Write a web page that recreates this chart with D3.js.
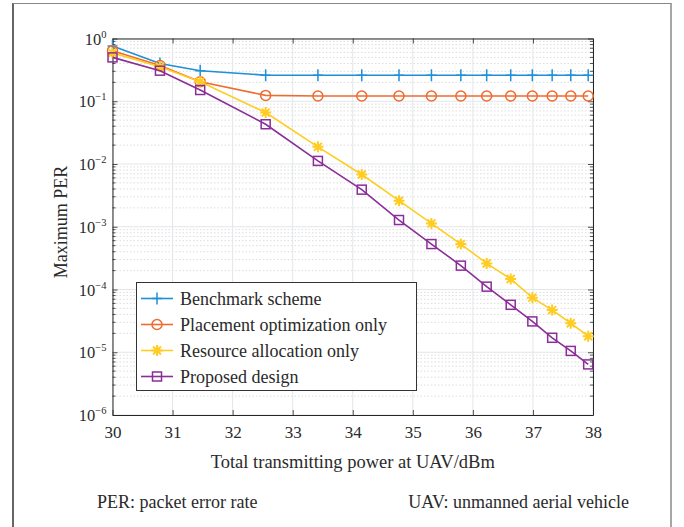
<!DOCTYPE html>
<html>
<head>
<meta charset="utf-8">
<script src="https://cdn.jsdelivr.net/npm/d3@7"></script>
<style>
  body { margin: 0; background: #fff; }
  svg { display: block; font-family: "Liberation Serif", "DejaVu Serif", serif; }
</style>
</head>
<body>
<svg id="chart" width="684" height="527"></svg>
<script>
// transmit power (dBm) at each simulated point
const power = [30, 30.79, 31.46, 32.55, 33.42, 34.15, 34.77, 35.31, 35.80, 36.23, 36.63, 36.99, 37.32, 37.63, 37.92];

// maximum PER per scheme
const benchmark = [0.76, 0.40, 0.307, 0.26, 0.26, 0.26, 0.26, 0.26, 0.26, 0.26, 0.26, 0.26, 0.26, 0.26, 0.26];
const placement = [0.64, 0.37, 0.205, 0.124, 0.121, 0.121, 0.121, 0.121, 0.121, 0.121, 0.121, 0.121, 0.121, 0.121, 0.121];
const resource = [0.59, 0.355, 0.205, 0.066, 0.0188, 0.0068, 0.0026, 0.00113, 5.3e-4, 2.6e-4, 1.47e-4, 7.4e-5, 4.7e-5, 2.9e-5, 1.8e-5];
const proposed = [0.50, 0.307, 0.151, 0.043, 0.0112, 0.0039, 0.00128, 5.3e-4, 2.4e-4, 1.11e-4, 5.7e-5, 3.1e-5, 1.7e-5, 1.05e-5, 6.4e-6];

const seriesNames = ["Benchmark scheme", "Placement optimization only", "Resource allocation only", "Proposed design"];
const seriesColors = ["#1f8fd6", "#ef6b2f", "#ffcc22", "#8a2e98"];
const seriesMarkers = ["plus", "circle", "star", "square"];

const xTicks = [30, 31, 32, 33, 34, 35, 36, 37, 38];
const yExponents = [0, -1, -2, -3, -4, -5, -6];

const svg = d3.select("#chart");
const margin = {left: 112.5, right: 91, top: 38.5, bottom: 112};
const W = 684, H = 527;
const textColor = "#2a2a2a";

const x = d3.scaleLinear().domain([30, 38]).range([margin.left, W - margin.right]);
const y = d3.scaleLog().domain([1e-6, 1]).range([H - margin.bottom, margin.top]);

// outer frame
svg.append("line").attr("x1", 13).attr("y1", 3).attr("x2", 13).attr("y2", H)
    .attr("stroke", "#333").attr("stroke-width", 1.5);
svg.append("line").attr("x1", 13).attr("y1", 3.5).attr("x2", 671).attr("y2", 3.5)
    .attr("stroke", "#888").attr("stroke-width", 1.2);
svg.append("line").attr("x1", 671).attr("y1", 3).attr("x2", 671).attr("y2", H)
    .attr("stroke", "#888").attr("stroke-width", 1.5);

const x0 = x.range()[0], x1 = x.range()[1];
const yb = y.range()[0], yt = y.range()[1];

// minor grid (dotted) for y
const minorVals = [];
yExponents.slice(0, -1).forEach(e => {
    for (let k = 2; k <= 9; k++) minorVals.push(k * Math.pow(10, e - 1));
});
const grid = svg.append("g");
grid.selectAll("line.minor").data(minorVals).join("line")
    .attr("x1", x0).attr("x2", x1)
    .attr("y1", d => y(d)).attr("y2", d => y(d))
    .attr("stroke", "#d4d4d4").attr("stroke-width", 0.8).attr("stroke-dasharray", "1.5,2");
grid.selectAll("line.mx").data(xTicks).join("line")
    .attr("x1", d => x(d)).attr("x2", d => x(d)).attr("y1", yt).attr("y2", yb)
    .attr("stroke", "#e2e6ea").attr("stroke-width", 1);
grid.selectAll("line.my").data(yExponents).join("line")
    .attr("x1", x0).attr("x2", x1)
    .attr("y1", d => y(Math.pow(10, d))).attr("y2", d => y(Math.pow(10, d)))
    .attr("stroke", "#e2e6ea").attr("stroke-width", 1);

// axes with inner ticks
const axisColor = "#262626";
const axBottom = svg.append("g").attr("transform", `translate(0,${yb})`)
    .call(d3.axisBottom(x).tickValues(xTicks).tickSizeInner(-5).tickSizeOuter(0).tickPadding(11));
const axTop = svg.append("g").attr("transform", `translate(0,${yt})`)
    .call(d3.axisTop(x).tickValues(xTicks).tickSizeInner(-5).tickSizeOuter(0).tickFormat(""));
const axLeft = svg.append("g").attr("transform", `translate(${x0},0)`)
    .call(d3.axisLeft(y).tickValues(yExponents.map(e => Math.pow(10, e))).tickSizeInner(-5).tickSizeOuter(0).tickFormat(""));
const axRight = svg.append("g").attr("transform", `translate(${x1},0)`)
    .call(d3.axisRight(y).tickValues(yExponents.map(e => Math.pow(10, e))).tickSizeInner(-5).tickSizeOuter(0).tickFormat(""));
axLeft.append("g").selectAll("line").data(minorVals).join("line")
    .attr("x1", 0).attr("x2", 3).attr("y1", d => y(d)).attr("y2", d => y(d));
axRight.append("g").selectAll("line").data(minorVals).join("line")
    .attr("x1", 0).attr("x2", -3).attr("y1", d => y(d)).attr("y2", d => y(d));
[axBottom, axTop, axLeft, axRight].forEach(g => {
    g.select(".domain").attr("stroke", axisColor).attr("stroke-width", 1);
    g.selectAll("line").attr("stroke", axisColor).attr("stroke-width", 0.8);
});
axBottom.selectAll("text").attr("font-family", "Liberation Serif").attr("font-size", 17).attr("fill", textColor);

// y tick labels 10^e
const ylab = svg.append("g");
yExponents.forEach(e => {
    const t = ylab.append("text")
        .attr("x", x0 - 6).attr("y", y(Math.pow(10, e)) + 6)
        .attr("text-anchor", "end").attr("font-size", 16.5).attr("fill", textColor);
    t.append("tspan").text("10");
    t.append("tspan").attr("dy", -7).attr("font-size", 10.5).text(e === 0 ? "0" : "\u2212" + (-e));
});

// lines and markers
const allSeries = [benchmark, placement, resource, proposed];
const line = d3.line().x(d => x(d[0])).y(d => y(d[1]));

function drawMarker(g, type, color, cx, cy) {
    if (type === "plus") {
        g.append("path").attr("d", `M${cx - 5},${cy}H${cx + 5}M${cx},${cy - 6}V${cy + 6}`)
            .attr("stroke", color).attr("stroke-width", 1.5).attr("fill", "none");
    } else if (type === "circle") {
        g.append("circle").attr("cx", cx).attr("cy", cy).attr("r", 5)
            .attr("stroke", color).attr("stroke-width", 1.5).attr("fill", "none");
    } else if (type === "star") {
        const r = 5.5, d = r * 0.72;
        g.append("path")
            .attr("d", `M${cx - r},${cy}H${cx + r}M${cx},${cy - r}V${cy + r}M${cx - d},${cy - d}L${cx + d},${cy + d}M${cx - d},${cy + d}L${cx + d},${cy - d}`)
            .attr("stroke", color).attr("stroke-width", 2).attr("fill", "none");
    } else if (type === "square") {
        g.append("rect").attr("x", cx - 4.5).attr("y", cy - 4.5).attr("width", 9).attr("height", 9)
            .attr("stroke", color).attr("stroke-width", 1.5).attr("fill", "none");
    }
}

const plot = svg.append("g");
allSeries.forEach((vals, i) => {
    const pts = power.map((p, j) => [p, vals[j]]);
    plot.append("path").datum(pts).attr("d", line)
        .attr("fill", "none").attr("stroke", seriesColors[i]).attr("stroke-width", 1.6);
    const mg = plot.append("g");
    pts.forEach(p => drawMarker(mg, seriesMarkers[i], seriesColors[i], x(p[0]), y(p[1])));
});

// legend
const lg = svg.append("g");
lg.append("rect").attr("x", 136.5).attr("y", 282.5).attr("width", 280).attr("height", 108)
    .attr("fill", "#fff").attr("stroke", "#333").attr("stroke-width", 1);
seriesNames.forEach((name, i) => {
    const cy = 298.5 + i * 26;
    lg.append("line").attr("x1", 141).attr("x2", 173).attr("y1", cy).attr("y2", cy)
        .attr("stroke", seriesColors[i]).attr("stroke-width", 1.6);
    drawMarker(lg, seriesMarkers[i], seriesColors[i], 157, cy);
    lg.append("text").attr("x", 180).attr("y", cy + 6)
        .attr("font-size", 18).attr("fill", textColor).text(name);
});

// axis titles
svg.append("text").attr("x", (x0 + x1) / 2).attr("y", 468).attr("text-anchor", "middle")
    .attr("font-size", 18.5).attr("fill", textColor).text("Total transmitting power at UAV/dBm");
svg.append("text").attr("transform", `translate(67,222) rotate(-90)`)
    .attr("text-anchor", "middle").attr("font-size", 18).attr("fill", textColor).text("Maximum PER");

// footnote
svg.append("text").attr("x", 97).attr("y", 508).attr("font-size", 18).attr("fill", textColor)
    .text("PER: packet error rate");
svg.append("text").attr("x", 629).attr("y", 508).attr("text-anchor", "end").attr("font-size", 18).attr("fill", textColor)
    .text("UAV: unmanned aerial vehicle");
</script>
</body>
</html>
